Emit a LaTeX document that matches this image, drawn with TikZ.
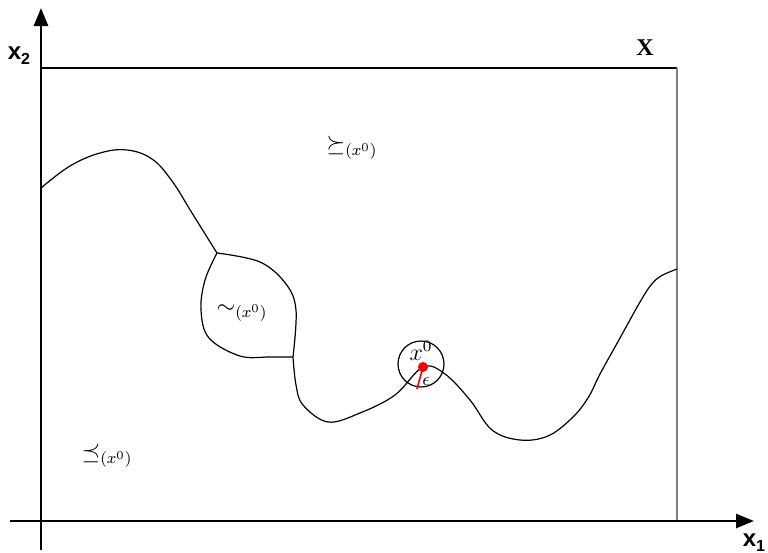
\documentclass[tikz,border=0pt]{standalone}
\usepackage{fontspec}
\newfontfamily\hel{Liberation Sans}
\newfontfamily\tim{Liberation Serif}
\usetikzlibrary{arrows.meta}
\begin{document}
\begin{tikzpicture}[x=0.5pt,y=-0.5pt,
  axis/.style={line width=1.3pt,-{Triangle[length=9pt,width=7pt]}},
  curve/.style={line width=0.6pt},
  lbl/.style={inner sep=0pt,font=\large},
  axlbl/.style={inner sep=0pt,font=\hel\bfseries\large}]
\useasboundingbox (0,0) rectangle (768,553);
% rectangle X
\draw[line width=0.6pt] (41,68) -- (677,68);
\draw[line width=1pt,gray] (677,68) -- (677,521);
% axes
\coordinate (ybot) at (41,550);
\coordinate (ytop) at (41,8);
\coordinate (xleft) at (10,521);
\coordinate (xright) at (754,521);
\draw[axis] (ybot) -- (ytop);
\draw[axis] (xleft) -- (xright);
% labels
\node[axlbl] (x2) at (19,56) {x\raisebox{-0.4ex}{\footnotesize 2}};
\node[axlbl] (x1) at (754,543) {x\raisebox{-0.4ex}{\footnotesize 1}};
\node[inner sep=0pt,font=\tim\bfseries\large] (X) at (645,48) {X};
\node[lbl] (succ) at (352,148) {$\succeq_{(x^0)}$};
\node[lbl] (sim) at (242,313) {$\sim_{(x^0)}$};
\node[lbl] (prec) at (107,456) {$\preceq_{(x^0)}$};
% curves
\coordinate (J1) at (217,253);
\coordinate (J2) at (293,357);
\coordinate (x0) at (423,367);
\draw[curve] plot[smooth,tension=0.65] coordinates {(41,188) (70,166) (100,153) (127,150) (152,159) (172,181) (192,213) (217,253)};
\draw[curve] plot[smooth,tension=0.6] coordinates {(217,253) (260,262) (286,284) (296,310) (293,357)};
\draw[curve] plot[smooth,tension=0.6] coordinates {(217,253) (205,280) (201,310) (209,338) (240,356) (270,357) (293,357)};
\draw[curve] plot[smooth,tension=0.6] coordinates {(293,357) (296,385) (303,405) (328,422) (360,413) (395,395) (423,367) (445,374) (470,400) (492,430) (520,440) (548,436) (572,418) (588,398) (600,374) (620,338) (640,302) (651,285) (661,276) (677,269)};
% epsilon ball
\node[draw,circle,minimum size=23pt,inner sep=0pt,line width=0.6pt] (ball) at (421,364) {};
\draw[red,line width=0.8pt] (x0) -- (417,389) coordinate (eps);
\fill[red] (x0) circle (5);
\node[lbl] (x0lbl) at (421,351) {$x^0$};
\node[inner sep=0pt,font=\small] (epslbl) at (426,382) {$\epsilon$};
\end{tikzpicture}
\end{document}
